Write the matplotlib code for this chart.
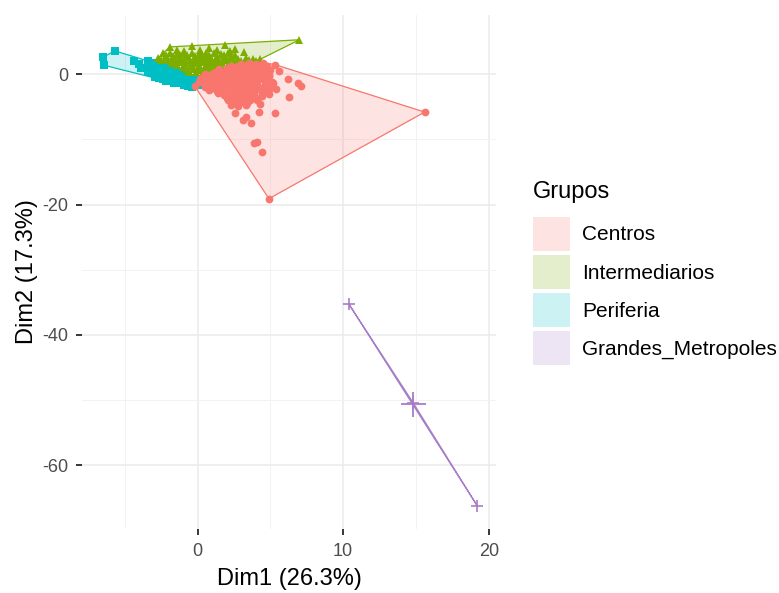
import matplotlib
matplotlib.use("Agg")
import matplotlib.pyplot as plt
import matplotlib.patches as mpatches
import numpy as np

plt.rcParams["font.family"] = ["Liberation Sans", "DejaVu Sans"]
plt.rcParams["axes.unicode_minus"] = False

groups = ["Centros", "Intermediarios", "Periferia", "Grandes_Metropoles"]
colors = ["#F8766D", "#7CAE00", "#00BFC4", "#A77DC8"]
markers = ["o", "^", "s", "+"]

# Centros (Dim1, Dim2)
centros_x = [3.0, 3.5, 4.0, 4.5, 5.3,
             2.3, 2.8, 3.3, 3.8, 4.3, 4.8,
             1.5, 2.0, 2.5, 3.0, 3.5, 4.0, 4.5, 5.0,
             1.2, 1.7, 2.2, 2.7, 3.2, 3.7, 4.2, 4.7,
             0.5, 1.0, 1.5, 2.0, 2.5, 3.0, 3.5, 4.0, 4.5, 4.9, 5.6,
             0.4, 0.9, 1.4, 1.9, 2.4, 2.9, 3.4, 3.9, 4.4, 4.9,
             0.2, 0.7, 1.2, 1.7, 2.2, 2.7, 3.2, 3.7, 4.2, 4.7, 6.2,
             0.1, 0.6, 1.1, 1.6, 2.1, 2.6, 3.1, 3.6, 4.1, 4.6, 5.1,
             -0.2, 0.5, 1.0, 1.5, 2.0, 2.5, 3.0, 3.5, 4.0, 4.6, 5.2, 6.9, 7.1,
             0.5, 1.0, 1.5, 2.0, 2.5, 3.0, 3.5, 4.0, 4.5, 5.0,
             0.8, 1.3, 1.8, 2.3, 2.8, 3.3, 3.8, 4.3, 4.8, 5.4,
             1.4, 1.9, 2.4, 2.9, 3.4, 3.9, 4.4,
             1.8, 2.3, 2.8, 3.3, 3.8, 4.4, 4.9,
             2.0, 2.5, 3.0, 3.5, 4.0,
             2.1, 2.6, 3.1, 3.6, 4.1,
             2.4, 2.9, 3.4,
             2.3, 2.8, 3.3, 4.3,
             15.6, 4.9, 6.3, 5.3, 4.2, 3.3, 3.7, 2.6, 3.9, 4.1, 4.4, 3.1]
centros_y = [1.6, 1.7, 1.6, 1.8, 1.5,
             1.2, 1.3, 1.2, 1.1, 1.2, 1.3,
             0.8, 0.9, 0.8, 0.9, 0.8, 0.9, 0.8, 0.7,
             0.4, 0.3, 0.4, 0.5, 0.4, 0.3, 0.4, 0.5,
             0.0, 0.1, 0.0, 0.1, 0.0, -0.1, 0.0, 0.1, 0.0, -0.1, 0.5,
             -0.4, -0.3, -0.4, -0.5, -0.4, -0.3, -0.4, -0.5, -0.4, -0.3,
             -0.8, -0.7, -0.8, -0.9, -0.8, -0.7, -0.8, -0.9, -0.8, -0.7, -0.8,
             -1.2, -1.1, -1.2, -1.3, -1.2, -1.1, -1.2, -1.3, -1.2, -1.1, -1.2,
             -1.8, -1.6, -1.7, -1.6, -1.5, -1.6, -1.7, -1.6, -1.5, -1.6, -1.4, -1.3, -1.8,
             -2.0, -2.1, -2.0, -1.9, -2.0, -2.1, -2.0, -1.9, -2.0, -2.1,
             -2.4, -2.5, -2.4, -2.3, -2.4, -2.5, -2.4, -2.3, -2.4, -2.2,
             -2.8, -2.9, -2.8, -2.7, -2.8, -2.9, -2.8,
             -3.2, -3.3, -3.2, -3.1, -3.2, -3.3, -3.0,
             -3.6, -3.7, -3.6, -3.5, -3.6,
             -4.0, -4.1, -4.0, -3.9, -4.0,
             -4.4, -4.3, -4.4,
             -4.7, -4.8, -4.7, -4.6,
             -5.8, -19.1, -3.5, -5.9, -5.8, -6.6, -7.5, -5.9, -10.5, -10.4, -12.0, -7.0]

# Intermediarios
inter_x = [-1.9, -0.4, 0.75, 1.9, 2.6, 3.2, 7.0,
           -1.4, -0.9, 0.2, 1.3, 2.2,
           -2.4, -1.9, -1.4, -0.9, -0.4, 0.1, 0.6, 1.1, 1.6, 2.1, 2.6,
           -2.2, -1.7, -1.2, -0.7, -0.2, 0.3, 0.8, 1.3, 1.8, 2.3,
           -2.7, -2.2, -1.7, -1.2, -0.7, -0.2, 0.3, 0.8, 1.3, 1.8, 2.3, 2.8, 3.3, 3.8, 4.3,
           -2.5, -2.0, -1.5, -1.0, -0.5, 0.0, 0.5, 1.0, 1.5, 2.0, 2.5, 3.0, 3.5, 4.0,
           -1.8, -1.3, -0.8, -0.3, 0.2, 0.7, 1.2, 1.7, 2.2, 2.7, 3.2,
           -1.4, -0.9, -0.4, 0.1, 0.6, 1.1, 1.6, 2.1, 2.6,
           -1.0, -0.5, 0.0, 0.5, 1.0, 1.5, 2.0,
           -0.8, -0.3, 0.2, 0.7, 1.2, 1.7,
           -0.6, -0.1, 0.4, 0.9]
inter_y = [4.2, 4.3, 4.0, 4.5, 3.9, 3.4, 5.3,
           3.7, 3.6, 3.7, 3.8, 3.6,
           3.2, 3.3, 3.1, 3.2, 3.3, 3.1, 3.2, 3.3, 3.1, 3.2, 3.0,
           2.9, 2.8, 2.9, 3.0, 2.8, 2.9, 3.0, 2.8, 2.9, 2.8,
           2.5, 2.6, 2.4, 2.5, 2.6, 2.4, 2.5, 2.6, 2.4, 2.5, 2.6, 2.4, 2.5, 2.4, 2.3,
           2.15, 2.2, 2.1, 2.15, 2.2, 2.1, 2.15, 2.2, 2.1, 2.15, 2.2, 2.1, 2.15, 2.1,
           1.8, 1.9, 1.7, 1.8, 1.9, 1.7, 1.8, 1.9, 1.7, 1.8, 1.7,
           1.45, 1.5, 1.4, 1.45, 1.5, 1.4, 1.45, 1.5, 1.4,
           1.1, 1.2, 1.0, 1.1, 1.2, 1.0, 1.1,
           0.75, 0.8, 0.7, 0.75, 0.8, 0.7,
           0.4, 0.3, 0.4, 0.5]

# Periferia
peri_x = [-6.5, -6.45, -5.7, -4.4, -4.05, -3.9,
          -3.4, -3.4, -3.4,
          -3.15, -3.15, -3.15,
          -2.9, -2.9, -2.9, -2.9,
          -2.65, -2.65, -2.65, -2.65,
          -2.4, -2.4, -2.4, -2.4,
          -2.15, -2.15, -2.15, -2.15,
          -1.9, -1.9, -1.9, -1.9,
          -1.65, -1.65, -1.65, -1.65,
          -1.4, -1.4, -1.4, -1.4,
          -1.15, -1.15, -1.15,
          -0.9, -0.9, -0.9,
          -0.65, -0.65, -0.65,
          -0.4, -0.4, -0.4,
          -0.2, -0.2,
          0.0, 0.0]
peri_y = [2.6, 1.4, 3.6, 2.0, 1.6, 0.9,
          2.0, 1.2, 0.4,
          1.8, 1.0, 0.2,
          1.7, 0.9, 0.1, -0.4,
          1.5, 0.7, -0.1, -0.6,
          1.3, 0.5, -0.3, -0.8,
          1.0, 0.2, -0.6, -1.0,
          0.8, 0.0, -0.8, -1.1,
          0.6, -0.2, -1.0, -1.3,
          0.4, -0.4, -1.2, -1.4,
          0.1, -0.7, -1.4,
          -0.1, -0.9, -1.6,
          -0.4, -1.1, -1.8,
          -0.6, -1.3, -1.9,
          -0.8, -1.5,
          -1.0, -1.6]

# Grandes_Metropoles
gm_x = [10.4, 14.8, 19.2]
gm_y = [-35.3, -50.4, -66.2]

data_x = [centros_x, inter_x, peri_x, gm_x]
data_y = [centros_y, inter_y, peri_y, gm_y]


def hull(pts):
    pts = sorted(set(pts))
    if len(pts) < 3:
        return pts

    def cross(o, a, b):
        return (a[0] - o[0]) * (b[1] - o[1]) - (a[1] - o[1]) * (b[0] - o[0])

    lower, upper = [], []
    for p in pts:
        while len(lower) >= 2 and cross(lower[-2], lower[-1], p) <= 0:
            lower.pop()
        lower.append(p)
    for p in reversed(pts):
        while len(upper) >= 2 and cross(upper[-2], upper[-1], p) <= 0:
            upper.pop()
        upper.append(p)
    return lower[:-1] + upper[:-1]


fig = plt.figure(figsize=(7.79, 5.93), dpi=100)
ax = fig.add_axes([82 / 779, 64 / 593, 414 / 779, 514 / 593])

draw_order = [2, 1, 0, 3]
for i in draw_order:
    xs, ys = data_x[i], data_y[i]
    if markers[i] == "+":
        ax.plot(xs, ys, linestyle="none", marker="+", markersize=9,
                markeredgewidth=1.2, color=colors[i], zorder=3)
    elif markers[i] == "^":
        ax.plot(xs, ys, linestyle="none", marker="^", markersize=6.2,
                color=colors[i], markeredgewidth=0, zorder=3)
    elif markers[i] == "s":
        ax.plot(xs, ys, linestyle="none", marker="s", markersize=5.4,
                color=colors[i], markeredgewidth=0, zorder=3)
    else:
        ax.plot(xs, ys, linestyle="none", marker="o", markersize=5.6,
                color=colors[i], markeredgewidth=0, zorder=3)
    # cluster centre
    cx, cy = np.mean(xs), np.mean(ys)
    if markers[i] == "+":
        ax.plot(cx, cy, marker="+", markersize=18, markeredgewidth=1.3,
                color=colors[i], zorder=3)
    else:
        ax.plot(cx, cy, marker=markers[i], markersize=9, markeredgewidth=0,
                color=colors[i], zorder=3)

for i in range(4):
    h = hull(list(zip(data_x[i], data_y[i])))
    hx = [p[0] for p in h] + [h[0][0]]
    hy = [p[1] for p in h] + [h[0][1]]
    if len(h) >= 3:
        ax.fill(hx, hy, color=colors[i], alpha=0.2, lw=0, zorder=2)
    ax.plot(hx, hy, color=colors[i], lw=0.9, zorder=2.5)

ax.set_xlim(-7.94, 20.5)
ax.set_ylim(-69.8, 9.1)
ax.set_xticks([0, 10, 20])
ax.set_xticks([-5, 5, 15], minor=True)
ax.set_yticks([-60, -40, -20, 0])
ax.set_yticks([-50, -30, -10], minor=True)
ax.grid(True, which="major", color="#EBEBEB", lw=1.1)
ax.grid(True, which="minor", color="#F2F2F2", lw=0.7)
ax.set_axisbelow(True)
for s in ax.spines.values():
    s.set_visible(False)
ax.tick_params(which="major", length=4, width=1.1, color="black",
               labelcolor="#4D4D4D", labelsize=13, pad=6)
ax.tick_params(which="minor", length=0)
ax.set_xlabel("Dim1 (26.3%)", fontsize=17, labelpad=6)
ax.set_ylabel("Dim2 (17.3%)", fontsize=17, labelpad=3)

handles = [mpatches.Patch(facecolor=colors[i], alpha=0.2, edgecolor="none", label=groups[i])
           for i in range(4)]
leg = fig.legend(handles=handles, title="Grupos", loc="upper left",
                 bbox_to_anchor=(533 / 779, 1 - 181 / 593), frameon=False,
                 borderpad=0, borderaxespad=0,
                 fontsize=15, title_fontsize=17, handlelength=1.78, handleheight=2.13,
                 labelspacing=0.2, handletextpad=0.58, alignment="left")
# gap between title and first key
leg._legend_box.sep = 10

fig.savefig("out.png", dpi=100)
